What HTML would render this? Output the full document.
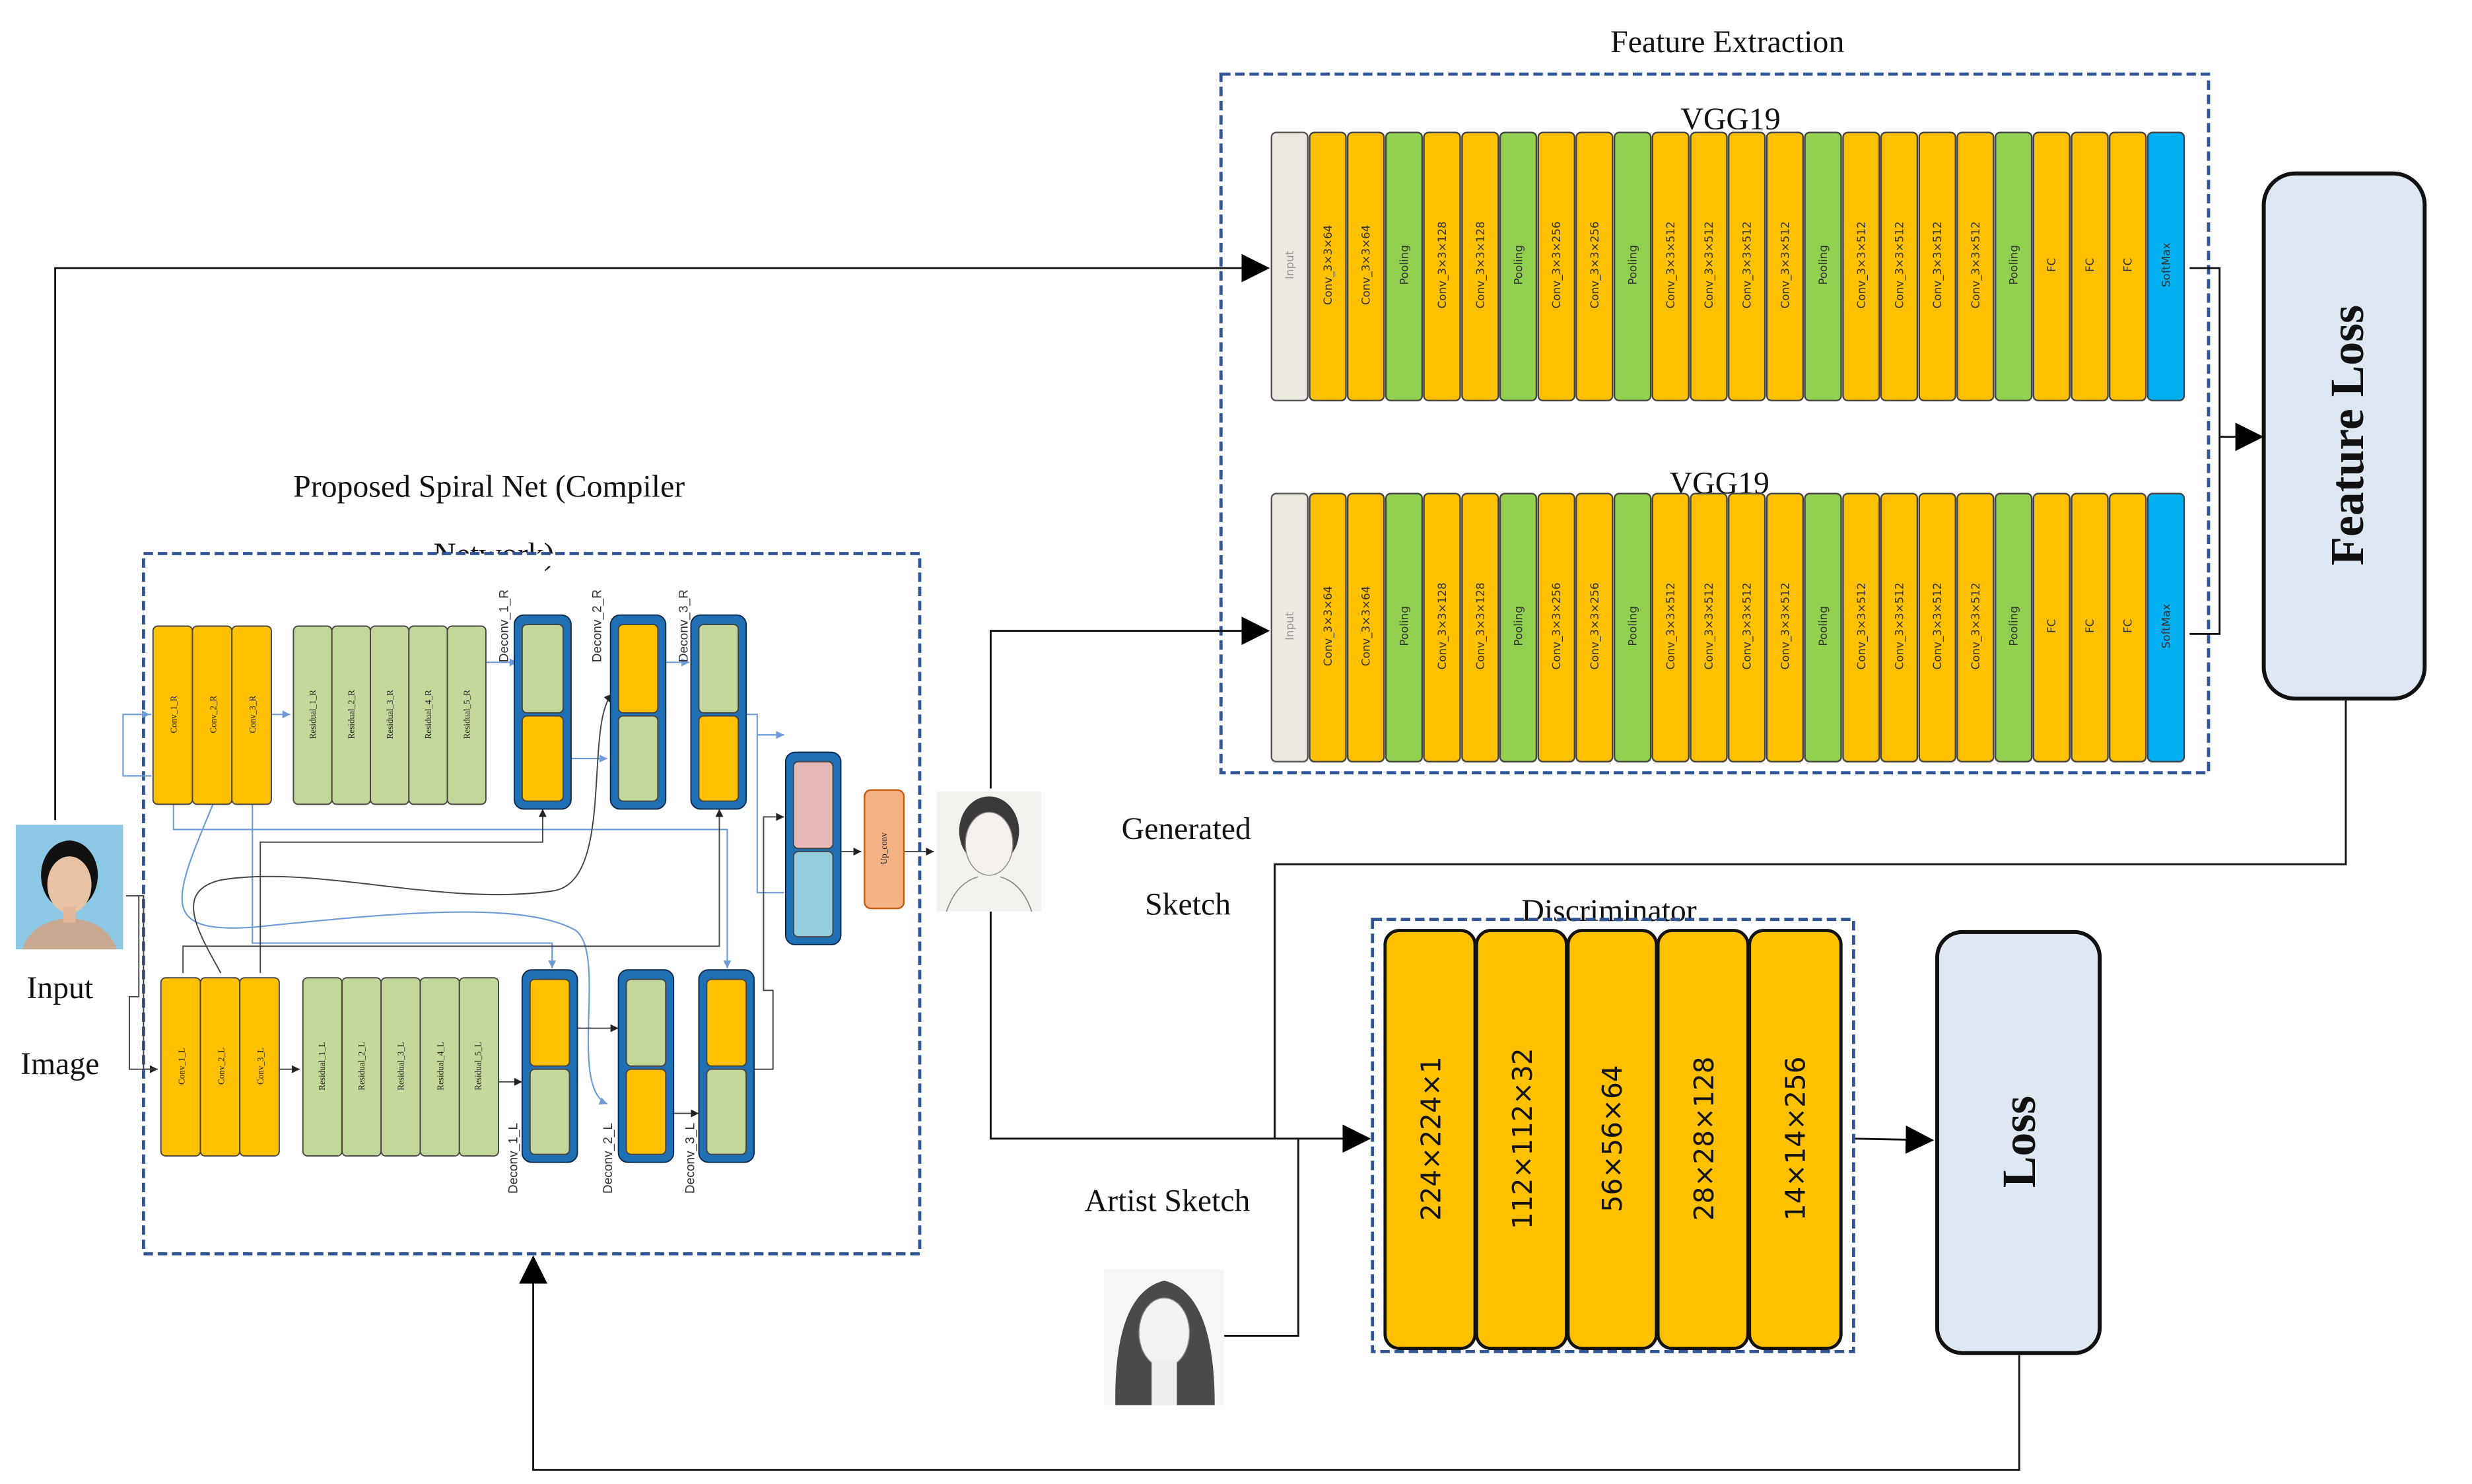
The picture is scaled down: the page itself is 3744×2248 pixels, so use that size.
<!DOCTYPE html>
<html><head><meta charset="utf-8"><style>
html,body{margin:0;padding:0;background:#fff;}
svg{display:block;}
.serif{font-family:"Liberation Serif",serif;fill:#111;}
.vt{font-family:"DejaVu Sans","Liberation Sans",sans-serif;font-size:7px;fill:#333;}
.sm{font-family:"Liberation Serif",serif;font-size:5.5px;fill:#222;}
.dl{font-family:"Liberation Sans",sans-serif;font-size:8px;fill:#333;}
.o{fill:#FFC000;stroke:#444;stroke-width:1;}
.g{fill:#92D050;stroke:#444;stroke-width:1;}
.i{fill:#ECE9E0;stroke:#555;stroke-width:1;}
.b{fill:#00B0F0;stroke:#444;stroke-width:1;}
.lg{fill:#C4D79B;stroke:#444;stroke-width:0.8;}
.oo{fill:#FFC000;stroke:#444;stroke-width:0.8;}
.bl{fill:#1F6FB5;stroke:#0b2a4a;stroke-width:0.8;}
.ln{fill:none;stroke:#111;stroke-width:1.2;}
.bln{fill:none;stroke:#6C9BD8;stroke-width:0.9;}
.kln{fill:none;stroke:#444;stroke-width:0.8;}
</style></head><body>
<svg width="3744" height="2248" viewBox="0 0 1567 941" preserveAspectRatio="none" xmlns="http://www.w3.org/2000/svg">
<defs>
<marker id="ah" markerWidth="10" markerHeight="10" refX="9" refY="5" orient="auto" markerUnits="userSpaceOnUse"><path d="M0,0 L10,5 L0,10 z" fill="#000"/></marker>
<marker id="ahB" markerWidth="18" markerHeight="18" refX="17" refY="9" orient="auto" markerUnits="userSpaceOnUse"><path d="M0,0 L18,9 L0,18 z" fill="#000"/></marker>
<marker id="sa" markerWidth="5" markerHeight="5" refX="5" refY="2.5" orient="auto" markerUnits="userSpaceOnUse"><path d="M0,0 L5,2.5 L0,5 z" fill="#222"/></marker>
<marker id="sb" markerWidth="5" markerHeight="5" refX="5" refY="2.5" orient="auto" markerUnits="userSpaceOnUse"><path d="M0,0 L5,2.5 L0,5 z" fill="#6C9BD8"/></marker>
</defs>

<text class="serif" x="1095" y="33" font-size="20" text-anchor="middle">Feature Extraction</text>
<rect x="774" y="47" width="626" height="443" fill="none" stroke="#2F5597" stroke-width="2" stroke-dasharray="6,3"/>

<g id="vgg1">
<text class="serif" x="1097" y="82" font-size="20" text-anchor="middle">VGG19</text>
<rect x="806" y="84" width="23" height="170" rx="3" class="i"/>
<rect x="830.2" y="84" width="23" height="170" rx="3" class="o"/>
<rect x="854.3" y="84" width="23" height="170" rx="3" class="o"/>
<rect x="878.5" y="84" width="23" height="170" rx="3" class="g"/>
<rect x="902.6" y="84" width="23" height="170" rx="3" class="o"/>
<rect x="926.8" y="84" width="23" height="170" rx="3" class="o"/>
<rect x="950.9" y="84" width="23" height="170" rx="3" class="g"/>
<rect x="975.1" y="84" width="23" height="170" rx="3" class="o"/>
<rect x="999.2" y="84" width="23" height="170" rx="3" class="o"/>
<rect x="1023.4" y="84" width="23" height="170" rx="3" class="g"/>
<rect x="1047.5" y="84" width="23" height="170" rx="3" class="o"/>
<rect x="1071.7" y="84" width="23" height="170" rx="3" class="o"/>
<rect x="1095.8" y="84" width="23" height="170" rx="3" class="o"/>
<rect x="1120" y="84" width="23" height="170" rx="3" class="o"/>
<rect x="1144.1" y="84" width="23" height="170" rx="3" class="g"/>
<rect x="1168.3" y="84" width="23" height="170" rx="3" class="o"/>
<rect x="1192.4" y="84" width="23" height="170" rx="3" class="o"/>
<rect x="1216.6" y="84" width="23" height="170" rx="3" class="o"/>
<rect x="1240.7" y="84" width="23" height="170" rx="3" class="o"/>
<rect x="1264.9" y="84" width="23" height="170" rx="3" class="g"/>
<rect x="1289" y="84" width="23" height="170" rx="3" class="o"/>
<rect x="1313.2" y="84" width="23" height="170" rx="3" class="o"/>
<rect x="1337.3" y="84" width="23" height="170" rx="3" class="o"/>
<rect x="1361.5" y="84" width="23" height="170" rx="3" class="b"/>
<g class="vt" text-anchor="middle">
<text transform="translate(820,168) rotate(-90)" fill="#999">Input</text>
<text transform="translate(844.2,168) rotate(-90)">Conv_3×3×64</text>
<text transform="translate(868.3,168) rotate(-90)">Conv_3×3×64</text>
<text transform="translate(892.5,168) rotate(-90)">Pooling</text>
<text transform="translate(916.6,168) rotate(-90)">Conv_3×3×128</text>
<text transform="translate(940.8,168) rotate(-90)">Conv_3×3×128</text>
<text transform="translate(964.9,168) rotate(-90)">Pooling</text>
<text transform="translate(989.1,168) rotate(-90)">Conv_3×3×256</text>
<text transform="translate(1013.2,168) rotate(-90)">Conv_3×3×256</text>
<text transform="translate(1037.4,168) rotate(-90)">Pooling</text>
<text transform="translate(1061.5,168) rotate(-90)">Conv_3×3×512</text>
<text transform="translate(1085.7,168) rotate(-90)">Conv_3×3×512</text>
<text transform="translate(1109.8,168) rotate(-90)">Conv_3×3×512</text>
<text transform="translate(1134,168) rotate(-90)">Conv_3×3×512</text>
<text transform="translate(1158.1,168) rotate(-90)">Pooling</text>
<text transform="translate(1182.3,168) rotate(-90)">Conv_3×3×512</text>
<text transform="translate(1206.4,168) rotate(-90)">Conv_3×3×512</text>
<text transform="translate(1230.6,168) rotate(-90)">Conv_3×3×512</text>
<text transform="translate(1254.7,168) rotate(-90)">Conv_3×3×512</text>
<text transform="translate(1278.9,168) rotate(-90)">Pooling</text>
<text transform="translate(1303,168) rotate(-90)">FC</text>
<text transform="translate(1327.2,168) rotate(-90)">FC</text>
<text transform="translate(1351.3,168) rotate(-90)">FC</text>
<text transform="translate(1375.5,168) rotate(-90)">SoftMax</text>
</g>
</g>

<g transform="translate(0,229)">
<text class="serif" x="1090" y="84" font-size="20" text-anchor="middle">VGG19</text>
<rect x="806" y="84" width="23" height="170" rx="3" class="i"/>
<rect x="830.2" y="84" width="23" height="170" rx="3" class="o"/>
<rect x="854.3" y="84" width="23" height="170" rx="3" class="o"/>
<rect x="878.5" y="84" width="23" height="170" rx="3" class="g"/>
<rect x="902.6" y="84" width="23" height="170" rx="3" class="o"/>
<rect x="926.8" y="84" width="23" height="170" rx="3" class="o"/>
<rect x="950.9" y="84" width="23" height="170" rx="3" class="g"/>
<rect x="975.1" y="84" width="23" height="170" rx="3" class="o"/>
<rect x="999.2" y="84" width="23" height="170" rx="3" class="o"/>
<rect x="1023.4" y="84" width="23" height="170" rx="3" class="g"/>
<rect x="1047.5" y="84" width="23" height="170" rx="3" class="o"/>
<rect x="1071.7" y="84" width="23" height="170" rx="3" class="o"/>
<rect x="1095.8" y="84" width="23" height="170" rx="3" class="o"/>
<rect x="1120" y="84" width="23" height="170" rx="3" class="o"/>
<rect x="1144.1" y="84" width="23" height="170" rx="3" class="g"/>
<rect x="1168.3" y="84" width="23" height="170" rx="3" class="o"/>
<rect x="1192.4" y="84" width="23" height="170" rx="3" class="o"/>
<rect x="1216.6" y="84" width="23" height="170" rx="3" class="o"/>
<rect x="1240.7" y="84" width="23" height="170" rx="3" class="o"/>
<rect x="1264.9" y="84" width="23" height="170" rx="3" class="g"/>
<rect x="1289" y="84" width="23" height="170" rx="3" class="o"/>
<rect x="1313.2" y="84" width="23" height="170" rx="3" class="o"/>
<rect x="1337.3" y="84" width="23" height="170" rx="3" class="o"/>
<rect x="1361.5" y="84" width="23" height="170" rx="3" class="b"/>
<g class="vt" text-anchor="middle">
<text transform="translate(820,168) rotate(-90)" fill="#999">Input</text>
<text transform="translate(844.2,168) rotate(-90)">Conv_3×3×64</text>
<text transform="translate(868.3,168) rotate(-90)">Conv_3×3×64</text>
<text transform="translate(892.5,168) rotate(-90)">Pooling</text>
<text transform="translate(916.6,168) rotate(-90)">Conv_3×3×128</text>
<text transform="translate(940.8,168) rotate(-90)">Conv_3×3×128</text>
<text transform="translate(964.9,168) rotate(-90)">Pooling</text>
<text transform="translate(989.1,168) rotate(-90)">Conv_3×3×256</text>
<text transform="translate(1013.2,168) rotate(-90)">Conv_3×3×256</text>
<text transform="translate(1037.4,168) rotate(-90)">Pooling</text>
<text transform="translate(1061.5,168) rotate(-90)">Conv_3×3×512</text>
<text transform="translate(1085.7,168) rotate(-90)">Conv_3×3×512</text>
<text transform="translate(1109.8,168) rotate(-90)">Conv_3×3×512</text>
<text transform="translate(1134,168) rotate(-90)">Conv_3×3×512</text>
<text transform="translate(1158.1,168) rotate(-90)">Pooling</text>
<text transform="translate(1182.3,168) rotate(-90)">Conv_3×3×512</text>
<text transform="translate(1206.4,168) rotate(-90)">Conv_3×3×512</text>
<text transform="translate(1230.6,168) rotate(-90)">Conv_3×3×512</text>
<text transform="translate(1254.7,168) rotate(-90)">Conv_3×3×512</text>
<text transform="translate(1278.9,168) rotate(-90)">Pooling</text>
<text transform="translate(1303,168) rotate(-90)">FC</text>
<text transform="translate(1327.2,168) rotate(-90)">FC</text>
<text transform="translate(1351.3,168) rotate(-90)">FC</text>
<text transform="translate(1375.5,168) rotate(-90)">SoftMax</text>
</g>
</g>

<path class="ln" d="M1388,170 H1407 V402 H1388"/>
<line class="ln" x1="1407" y1="277" x2="1434" y2="277" marker-end="url(#ahB)"/>
<rect x="1435" y="110" width="102" height="333" rx="20" fill="#DEE8F4" stroke="#111" stroke-width="2.5"/>
<text class="serif" transform="translate(1498,276) rotate(-90)" font-size="30" font-weight="bold" text-anchor="middle">Feature Loss</text>

<path class="ln" d="M35,520 V170 H804" marker-end="url(#ahB)"/>
<path class="ln" d="M628,500 V400 H804" marker-end="url(#ahB)"/>
<path class="ln" d="M1487,443 V548 H808 V722"/>
<path class="ln" d="M628,578 V722 H868" marker-end="url(#ahB)"/>
<path class="ln" d="M776,847 H823 V722"/>
<path class="ln" d="M1175,722 L1225,723" marker-end="url(#ahB)"/>
<path class="ln" d="M1280,858 V932 H338 V797" marker-end="url(#ahB)"/>

<text class="serif" x="1020" y="584" font-size="20" text-anchor="middle">Discriminator</text>
<rect x="870" y="583" width="305" height="274" fill="none" stroke="#2F5597" stroke-width="2" stroke-dasharray="6,3"/>
<rect x="878" y="590" width="57" height="265" rx="9" fill="#FFC000" stroke="#111" stroke-width="2"/>
<rect x="936" y="590" width="57" height="265" rx="9" fill="#FFC000" stroke="#111" stroke-width="2"/>
<rect x="994" y="590" width="56" height="265" rx="9" fill="#FFC000" stroke="#111" stroke-width="2"/>
<rect x="1051" y="590" width="57" height="265" rx="9" fill="#FFC000" stroke="#111" stroke-width="2"/>
<rect x="1109" y="590" width="58" height="265" rx="9" fill="#FFC000" stroke="#111" stroke-width="2"/>
<g font-family="DejaVu Sans,Liberation Sans,sans-serif" font-size="17" fill="#111" text-anchor="middle">
<text transform="translate(913,722) rotate(-90)">224×224×1</text>
<text transform="translate(971,722) rotate(-90)">112×112×32</text>
<text transform="translate(1028,722) rotate(-90)">56×56×64</text>
<text transform="translate(1086,722) rotate(-90)">28×28×128</text>
<text transform="translate(1144,722) rotate(-90)">14×14×256</text>
</g>
<rect x="1228" y="591" width="103" height="267" rx="16" fill="#DEE8F4" stroke="#111" stroke-width="2.5"/>
<text class="serif" transform="translate(1290,724) rotate(-90)" font-size="30" font-weight="bold" text-anchor="middle">Loss</text>

<text class="serif" x="752" y="532" font-size="20" text-anchor="middle">Generated</text>
<text class="serif" x="753" y="580" font-size="20" text-anchor="middle">Sketch</text>
<text class="serif" x="740" y="768" font-size="20" text-anchor="middle">Artist Sketch</text>
<text class="serif" x="38" y="633" font-size="20" text-anchor="middle">Input</text>
<text class="serif" x="38" y="681" font-size="20" text-anchor="middle">Image</text>

<rect x="10" y="523" width="68" height="79" fill="#8CC8E6"/>
<path d="M14,602 Q20,584 44,582 Q68,584 74,602 Z" fill="#C9A890"/>
<ellipse cx="44" cy="555" rx="18" ry="22" fill="#111"/>
<ellipse cx="44" cy="561" rx="14" ry="18" fill="#E8C2A4"/>
<rect x="40" y="575" width="8" height="10" fill="#E0B898"/>
<rect x="594" y="502" width="66" height="76" fill="#F3F1EE"/>
<ellipse cx="627" cy="527" rx="19" ry="22" fill="#3a3a3a"/>
<ellipse cx="627" cy="535" rx="15" ry="20" fill="#F4F1EC" stroke="#888" stroke-width="0.6"/>
<path d="M600,578 Q606,560 620,556 M654,578 Q648,560 634,556" stroke="#888" fill="none" stroke-width="0.7"/>
<rect x="700" y="805" width="76" height="86" fill="#F6F6F6"/>
<path d="M707,891 Q706,820 738,812 Q770,820 770,891 Z" fill="#4a4a4a"/>
<ellipse cx="738" cy="845" rx="16" ry="22" fill="#F2F2F2" stroke="#888" stroke-width="0.6"/>
<rect x="730" y="862" width="16" height="29" fill="#EEE"/>

<text class="serif" x="310" y="315" font-size="20" text-anchor="middle">Proposed Spiral Net (Compiler</text>
<text class="serif" x="313" y="358" font-size="20" text-anchor="middle">Network)</text>
<rect x="265" y="351" width="100" height="8" fill="#fff"/>
<rect x="91" y="351" width="492" height="444" fill="none" stroke="#2F5597" stroke-width="2" stroke-dasharray="6,3"/>

<g>
<path class="bln" d="M96,453 H78 V492 H96 M78,453 H95" marker-end="url(#sb)"/>
<path class="bln" d="M172,453 H184" marker-end="url(#sb)"/>
<path class="bln" d="M308,420 H328" marker-end="url(#sb)"/>
<path class="bln" d="M360,481 H385" marker-end="url(#sb)"/>
<path class="bln" d="M420,420 H437" marker-end="url(#sb)"/>
<path class="bln" d="M110,510 V526 H461 V614" marker-end="url(#sb)"/>
<path class="bln" d="M160,510 V598 H350 V614" marker-end="url(#sb)"/>
<path class="bln" d="M135,510 C110,570 100,592 160,588 C240,580 330,570 365,590 C385,605 360,690 385,700" marker-end="url(#sb)"/>
<path class="bln" d="M472,453 H480 V566 H497 M480,466 H497" marker-end="url(#sb)"/>
<path class="kln" d="M80,568 H91 V587 H91 V678 H100" marker-end="url(#sa)"/>
<path class="kln" d="M80,568 H88 V632 H82 V678 H100"/>
<path class="kln" d="M177,678 H190" marker-end="url(#sa)"/>
<path class="kln" d="M316,686 H331" marker-end="url(#sa)"/>
<path class="kln" d="M365,652 H392" marker-end="url(#sa)"/>
<path class="kln" d="M426,706 H443" marker-end="url(#sa)"/>
<path class="kln" d="M165,617 V534 H344 V513" marker-end="url(#sa)"/>
<path class="kln" d="M116,617 V600 H456 V513" marker-end="url(#sa)"/>
<path class="kln" d="M140,617 C125,590 110,565 140,558 C200,548 280,575 350,565 C390,560 370,460 388,440" marker-end="url(#sa)"/>
<path class="kln" d="M477,678 H490 V628 H484 V518 H497" marker-end="url(#sa)"/>
<path class="kln" d="M532,540 H546" marker-end="url(#sa)"/>
<path class="kln" d="M572,540 H592" marker-end="url(#sa)"/>
</g>

<rect x="97" y="397" width="25" height="113" rx="3" class="oo"/>
<rect x="122" y="397" width="25" height="113" rx="3" class="oo"/>
<rect x="147" y="397" width="25" height="113" rx="3" class="oo"/>
<rect x="186" y="397" width="24.4" height="113" rx="3" class="lg"/>
<rect x="210.4" y="397" width="24.4" height="113" rx="3" class="lg"/>
<rect x="234.8" y="397" width="24.4" height="113" rx="3" class="lg"/>
<rect x="259.2" y="397" width="24.4" height="113" rx="3" class="lg"/>
<rect x="283.6" y="397" width="24.4" height="113" rx="3" class="lg"/>
<g class="sm" text-anchor="middle">
<text transform="translate(112,453) rotate(-90)">Conv_1_R</text>
<text transform="translate(137,453) rotate(-90)">Conv_2_R</text>
<text transform="translate(162,453) rotate(-90)">Conv_3_R</text>
<text transform="translate(200,453) rotate(-90)">Residual_1_R</text>
<text transform="translate(224.6,453) rotate(-90)">Residual_2_R</text>
<text transform="translate(249,453) rotate(-90)">Residual_3_R</text>
<text transform="translate(273.4,453) rotate(-90)">Residual_4_R</text>
<text transform="translate(297.8,453) rotate(-90)">Residual_5_R</text>
</g>
<rect x="102" y="620" width="25" height="113" rx="3" class="oo"/>
<rect x="127" y="620" width="25" height="113" rx="3" class="oo"/>
<rect x="152" y="620" width="25" height="113" rx="3" class="oo"/>
<rect x="192" y="620" width="24.8" height="113" rx="3" class="lg"/>
<rect x="216.8" y="620" width="24.8" height="113" rx="3" class="lg"/>
<rect x="241.6" y="620" width="24.8" height="113" rx="3" class="lg"/>
<rect x="266.4" y="620" width="24.8" height="113" rx="3" class="lg"/>
<rect x="291.2" y="620" width="24.8" height="113" rx="3" class="lg"/>
<g class="sm" text-anchor="middle">
<text transform="translate(117,676) rotate(-90)">Conv_1_L</text>
<text transform="translate(142,676) rotate(-90)">Conv_2_L</text>
<text transform="translate(167,676) rotate(-90)">Conv_3_L</text>
<text transform="translate(206,676) rotate(-90)">Residual_1_L</text>
<text transform="translate(231,676) rotate(-90)">Residual_2_L</text>
<text transform="translate(256,676) rotate(-90)">Residual_3_L</text>
<text transform="translate(281,676) rotate(-90)">Residual_4_L</text>
<text transform="translate(305,676) rotate(-90)">Residual_5_L</text>
</g>

<rect x="326" y="390" width="36" height="123" rx="6" class="bl"/>
<rect x="331" y="396" width="26" height="56" rx="3" class="lg"/><rect x="331" y="454" width="26" height="54" rx="3" class="oo"/>
<rect x="387" y="390" width="35" height="123" rx="6" class="bl"/>
<rect x="392" y="396" width="25" height="56" rx="3" class="oo"/><rect x="392" y="454" width="25" height="54" rx="3" class="lg"/>
<rect x="438" y="390" width="35" height="123" rx="6" class="bl"/>
<rect x="443" y="396" width="25" height="56" rx="3" class="lg"/><rect x="443" y="454" width="25" height="54" rx="3" class="oo"/>
<g class="dl" text-anchor="start">
<text transform="translate(322,420) rotate(-90)">Deconv_1_R</text>
<text transform="translate(381,420) rotate(-90)">Deconv_2_R</text>
<text transform="translate(436,420) rotate(-90)">Deconv_3_R</text>
</g>
<rect x="331" y="615" width="35" height="122" rx="6" class="bl"/>
<rect x="336" y="621" width="25" height="55" rx="3" class="oo"/><rect x="336" y="678" width="25" height="54" rx="3" class="lg"/>
<rect x="392" y="615" width="35" height="122" rx="6" class="bl"/>
<rect x="397" y="621" width="25" height="55" rx="3" class="lg"/><rect x="397" y="678" width="25" height="54" rx="3" class="oo"/>
<rect x="443" y="615" width="35" height="122" rx="6" class="bl"/>
<rect x="448" y="621" width="25" height="55" rx="3" class="oo"/><rect x="448" y="678" width="25" height="54" rx="3" class="lg"/>
<g class="dl" text-anchor="end">
<text transform="translate(328,712) rotate(-90)">Deconv_1_L</text>
<text transform="translate(388,712) rotate(-90)">Deconv_2_L</text>
<text transform="translate(440,712) rotate(-90)">Deconv_3_L</text>
</g>
<rect x="498" y="477" width="35" height="122" rx="6" class="bl"/>
<rect x="503" y="483" width="25" height="55" rx="3" fill="#E6B8B7" stroke="#444" stroke-width="0.8"/>
<rect x="503" y="540" width="25" height="54" rx="3" fill="#92CDDC" stroke="#444" stroke-width="0.8"/>
<rect x="548" y="501" width="25" height="75" rx="4" fill="#F4B183" stroke="#C55A11" stroke-width="1"/>
<text class="sm" transform="translate(562,538) rotate(-90)" text-anchor="middle">Up_conv</text>
</svg>
</body></html>
